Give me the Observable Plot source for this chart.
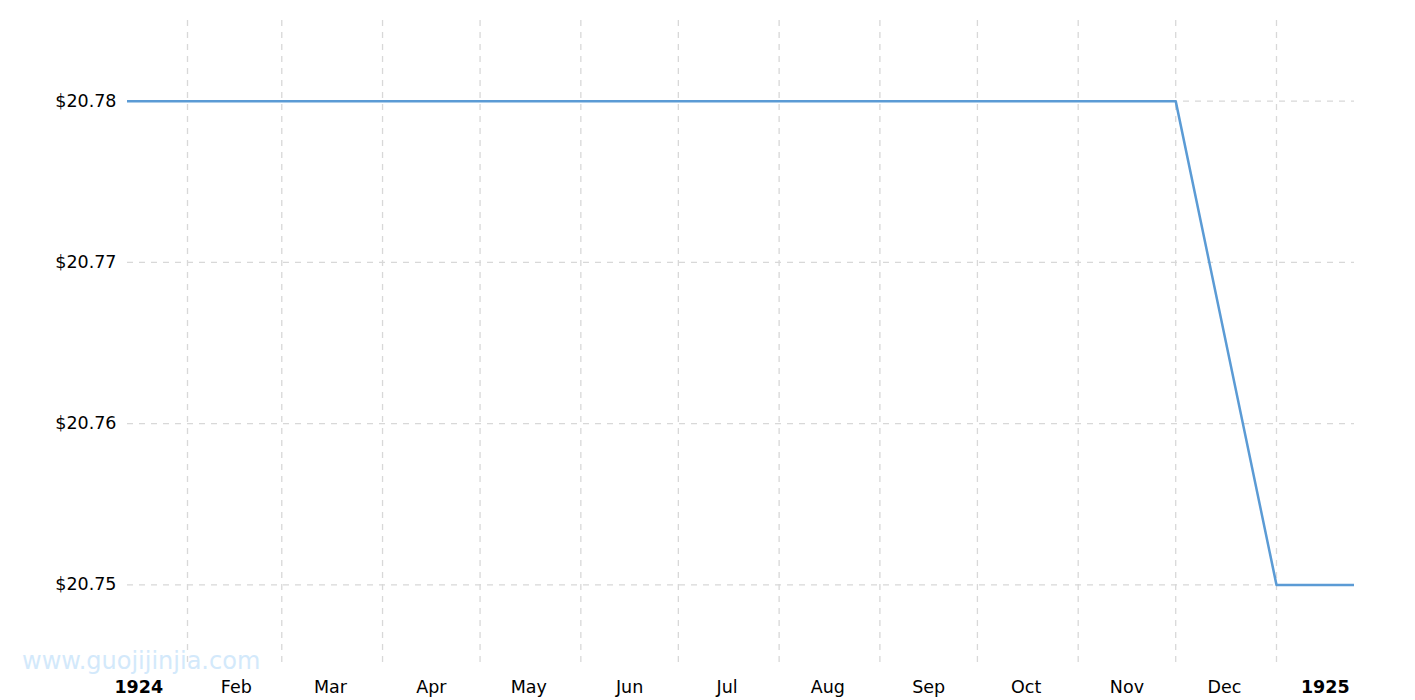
<!DOCTYPE html>
<html>
<head>
<meta charset="utf-8">
<script src="https://cdn.jsdelivr.net/npm/d3@7"></script>
<script src="https://cdn.jsdelivr.net/npm/@observablehq/plot@0.6"></script>
<style>
  html, body { margin: 0; padding: 0; background: #fff; }
  #wrap { position: relative; width: 1415px; height: 700px; overflow: hidden; }
  #wm { position: absolute; left: 22px; top: 647px; font-family: "DejaVu Sans", Verdana, sans-serif; font-size: 24px; color: #d3e9fb; white-space: nowrap; }
</style>
</head>
<body>
<div id="wrap"><div id="wm">www.guojijinjia.com</div></div>
<script>
// Data: monthly price (USD)
const dates = ["1924-01-01","1924-02-01","1924-03-01","1924-04-01","1924-05-01","1924-06-01","1924-07-01","1924-08-01","1924-09-01","1924-10-01","1924-11-01","1924-12-01","1925-01-01","1925-02-01"];
const prices = [20.78,20.78,20.78,20.78,20.78,20.78,20.78,20.78,20.78,20.78,20.78,20.78,20.75,20.75];

// Axis ticks
const gridMonths = ["1924-02-01","1924-03-01","1924-04-01","1924-05-01","1924-06-01","1924-07-01","1924-08-01","1924-09-01","1924-10-01","1924-11-01","1924-12-01","1925-01-01"];
const monthLabelDates = ["1924-02-16","1924-03-16","1924-04-16","1924-05-16","1924-06-16","1924-07-16","1924-08-16","1924-09-16","1924-10-16","1924-11-16","1924-12-16"];
const monthLabels = ["Feb","Mar","Apr","May","Jun","Jul","Aug","Sep","Oct","Nov","Dec"];
const yearLabelDates = ["1924-01-17","1925-01-16"];
const yearLabels = ["1924","1925"];
const yTicks = [20.75, 20.76, 20.77, 20.78];

const toDate = s => new Date(s + "T00:00:00Z");
const data = dates.map((d, i) => ({date: toDate(d), price: prices[i]}));
const monthRows = monthLabelDates.map((d, i) => ({date: toDate(d), label: monthLabels[i]}));
const yearRows = yearLabelDates.map((d, i) => ({date: toDate(d), label: yearLabels[i]}));

const font = "'DejaVu Sans', Verdana, sans-serif";

const chart = Plot.plot({
  width: 1415,
  height: 700,
  marginLeft: 127,
  marginRight: 61,
  marginTop: 20,
  marginBottom: 35,
  style: {fontFamily: font, fontSize: "17.5px", color: "#000", background: "transparent"},
  x: {type: "utc", domain: [new Date("1924-01-13T13:00:00Z"), new Date("1925-01-25T00:00:00Z")], axis: null, label: null},
  y: {domain: [20.745, 20.785], axis: null, label: null},
  marks: [
    Plot.gridX(gridMonths.map(toDate), {stroke: "#d8d8d8", strokeOpacity: 1, strokeWidth: 1.3, strokeDasharray: "6,6"}),
    Plot.gridY(yTicks, {stroke: "#d8d8d8", strokeOpacity: 1, strokeWidth: 1.3, strokeDasharray: "6,6"}),
    Plot.axisY(yTicks, {tickSize: 0, tickPadding: 11, label: null, tickFormat: d => "$" + d.toFixed(2), fontSize: 17.5, fill: "#000"}),
    Plot.text(monthRows, {x: "date", text: "label", frameAnchor: "bottom", dy: 27, fontSize: 17.5, fill: "#000"}),
    Plot.text(yearRows, {x: "date", text: "label", frameAnchor: "bottom", dy: 27, fontSize: 17.5, fontWeight: "bold", fill: "#000"}),
    Plot.line(data, {x: "date", y: "price", stroke: "#5b9bd5", strokeWidth: 2.5, clip: true})
  ]
});
document.getElementById("wrap").insertBefore(chart, document.getElementById("wm"));
</script>
</body>
</html>
